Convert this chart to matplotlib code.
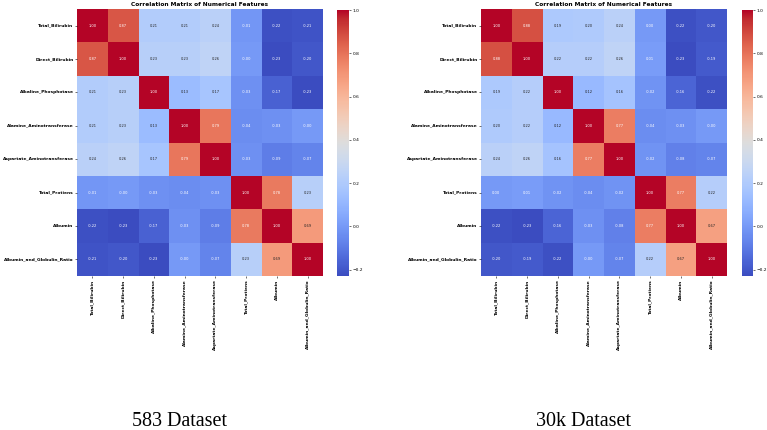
import numpy as np
import matplotlib
matplotlib.use('Agg')
import matplotlib.pyplot as plt
import seaborn as sns

features = ['Total_Bilirubin', 'Direct_Bilirubin', 'Alkaline_Phosphotase',
            'Alamine_Aminotransferase', 'Aspartate_Aminotransferase',
            'Total_Protiens', 'Albumin', 'Albumin_and_Globulin_Ratio']

# correlation values (583 records)
corr_583 = [
    [1.00, 0.87, 0.21, 0.21, 0.24, -0.01, -0.22, -0.21],
    [0.87, 1.00, 0.23, 0.23, 0.26, -0.001, -0.23, -0.20],
    [0.21, 0.23, 1.00, 0.13, 0.17, -0.03, -0.17, -0.23],
    [0.21, 0.23, 0.13, 1.00, 0.79, -0.04, -0.03, -0.001],
    [0.24, 0.26, 0.17, 0.79, 1.00, -0.03, -0.09, -0.07],
    [-0.01, -0.001, -0.03, -0.04, -0.03, 1.00, 0.78, 0.23],
    [-0.22, -0.23, -0.17, -0.03, -0.09, 0.78, 1.00, 0.69],
    [-0.21, -0.20, -0.23, -0.001, -0.07, 0.23, 0.69, 1.00],
]

# 30k records
corr_30k = [
    [1.00, 0.88, 0.19, 0.20, 0.24, 0.00, -0.22, -0.20],
    [0.88, 1.00, 0.22, 0.22, 0.26, 0.01, -0.23, -0.19],
    [0.19, 0.22, 1.00, 0.12, 0.16, -0.02, -0.16, -0.22],
    [0.20, 0.22, 0.12, 1.00, 0.77, -0.04, -0.03, -0.001],
    [0.24, 0.26, 0.16, 0.77, 1.00, -0.02, -0.08, -0.07],
    [0.00, 0.01, -0.02, -0.04, -0.02, 1.00, 0.77, 0.22],
    [-0.22, -0.23, -0.16, -0.03, -0.08, 0.77, 1.00, 0.67],
    [-0.20, -0.19, -0.22, -0.001, -0.07, 0.22, 0.67, 1.00],
]

captions = ['583 Dataset', '30k Dataset']

W, H = 767, 430
fig = plt.figure(figsize=(W / 100, H / 100), dpi=100)

def box(x0, y0, x1, y1):
    # pixel box -> figure fraction
    return [x0 / W, 1 - y1 / H, (x1 - x0) / W, (y1 - y0) / H]

# heatmap x0, x1, colorbar x0, x1, caption centre (pixels)
panels = [(77, 323, 337, 349, 180), (481, 727, 742, 753, 584)]
for data, cap, (hx0, hx1, cx0, cx1, capx) in zip([corr_583, corr_30k], captions, panels):
    ax = fig.add_axes(box(hx0, 9, hx1, 276))
    cax = fig.add_axes(box(cx0, 10, cx1, 276))
    mat = np.array(data)
    sns.heatmap(mat, annot=True, fmt='.2f', cmap='coolwarm', ax=ax, cbar_ax=cax,
                xticklabels=features, yticklabels=features,
                annot_kws={'fontsize': 2.6})
    ax.set_title('Correlation Matrix of Numerical Features', fontsize=4.2,
                 fontweight='bold', pad=2)
    ax.tick_params(axis='both', labelsize=3.2, length=1.5, width=0.4, pad=1)
    for lab in ax.get_xticklabels() + ax.get_yticklabels():
        lab.set_fontweight('bold')
    plt.setp(ax.get_xticklabels(), rotation=90)
    plt.setp(ax.get_yticklabels(), rotation=0)
    cax.tick_params(labelsize=3.2, length=1.5, width=0.4, pad=1)
    cax.set_yticks([-0.2, 0.0, 0.2, 0.4, 0.6, 0.8, 1.0])
    for sp in cax.spines.values():
        sp.set_visible(False)
    fig.text(capx / W, 4.5 / H, cap, ha='center', va='baseline',
             fontsize=14.5, family='Liberation Serif')

fig.savefig('out.png', dpi=100)
